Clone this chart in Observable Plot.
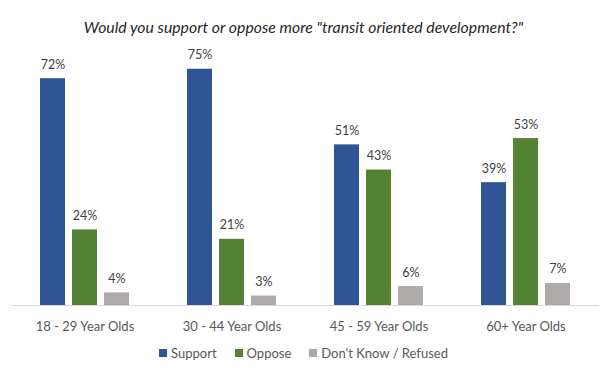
<!DOCTYPE html>
<html>
<head>
<meta charset="utf-8">
<script src="https://cdn.jsdelivr.net/npm/d3@7"></script>
<script src="https://cdn.jsdelivr.net/npm/@observablehq/plot@0.6"></script>
<style>
  body { margin: 0; background: #fff; width: 607px; height: 377px; overflow: hidden; font-family: Lato, "Open Sans", sans-serif; color: #595959; }
  #title { height: 40px; box-sizing: border-box; padding-top: 12px; display: flex; align-items: center; justify-content: center; font-size: 15.8px; font-style: italic; color: #262626; }
  #legend { height: 26px; box-sizing: border-box; padding-top: 0; display: flex; align-items: center; justify-content: center; font-size: 13px; color: #595959; }
  .item { display: flex; align-items: center; margin: 0 9px; }
  .sw { width: 8px; height: 8px; margin-right: 4px; }
</style>
</head>
<body>
<div id="title">Would you support or oppose more "transit oriented development?"</div>
<div id="chart"></div>
<div id="legend"></div>
<script>
const groups = ["18 - 29 Year Olds", "30 - 44 Year Olds", "45 - 59 Year Olds", "60+ Year Olds"];
const series = ["Support", "Oppose", "Don't Know / Refused"];
const colors = ["#2F5597", "#548235", "#AEAAAA"];
const support = [72, 75, 51, 39];
const oppose = [24, 21, 43, 53];
const dontKnow = [4, 3, 6, 7];

const valuesBySeries = [support, oppose, dontKnow];
const data = [];
groups.forEach((g, i) => {
  series.forEach((s, j) => {
    data.push({group: g, series: s, value: valuesBySeries[j][i]});
  });
});

const chart = Plot.plot({
  width: 607,
  height: 300,
  marginTop: 13,
  marginBottom: 35,
  marginLeft: 10,
  marginRight: 8,
  style: {fontFamily: "Lato, 'Open Sans', sans-serif", color: "#595959", background: "#fff"},
  fx: {domain: groups, padding: 0, label: null},
  x: {domain: series, paddingInner: 0.21, paddingOuter: 0.836, axis: null},
  y: {domain: [0, 80], axis: null},
  color: {domain: series, range: colors},
  marks: [
    Plot.barY(data, {fx: "group", x: "series", y: "value", fill: "series"}),
    Plot.ruleY([0], {stroke: "#d9d9d9", strokeWidth: 1}),
    Plot.text(data, {fx: "group", x: "series", y: "value", text: d => d.value + "%", dy: -10, lineAnchor: "bottom", fontSize: 12.5, fill: "#404040"}),
    Plot.axisFx({anchor: "bottom", tickSize: 0, tickPadding: 16, fontSize: 13, label: null, fill: "#595959"})
  ]
});
document.getElementById("chart").appendChild(chart);

const legend = document.getElementById("legend");
series.forEach((s, j) => {
  const item = document.createElement("div");
  item.className = "item";
  const sw = document.createElement("div");
  sw.className = "sw";
  sw.style.background = colors[j];
  const t = document.createElement("span");
  t.textContent = s;
  item.appendChild(sw);
  item.appendChild(t);
  legend.appendChild(item);
});
</script>
</body>
</html>
